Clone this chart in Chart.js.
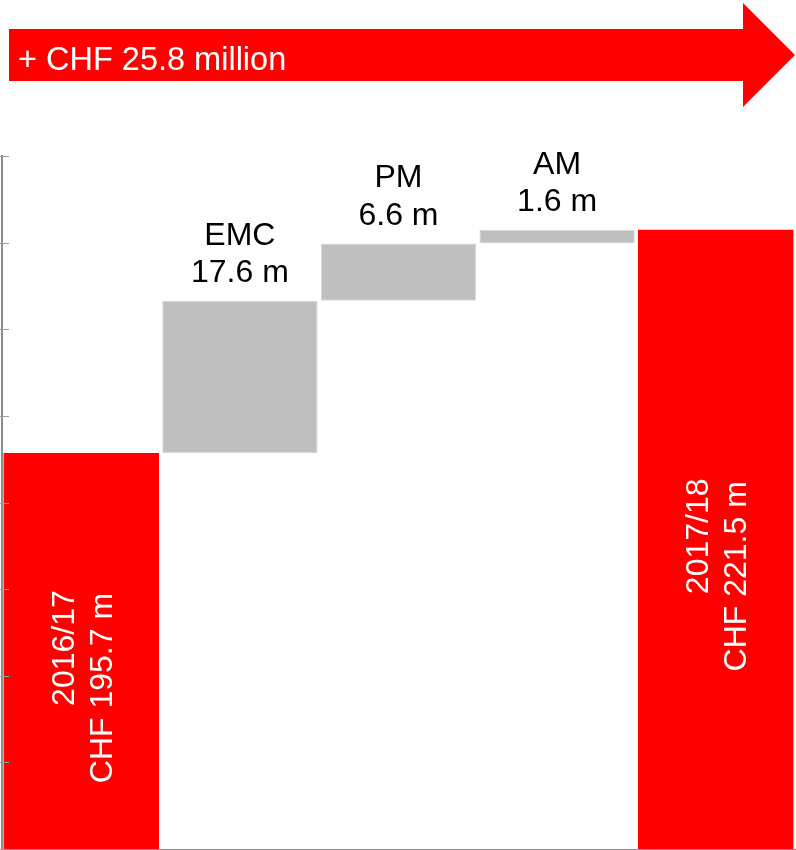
<!DOCTYPE html>
<html>
<head>
<meta charset="utf-8">
<script src="https://cdn.jsdelivr.net/npm/chart.js@4/dist/chart.umd.min.js"></script>
<style>
  html, body { margin: 0; padding: 0; background: #ffffff; }
  #wrap { width: 796px; height: 850px; position: relative; }
</style>
</head>
<body>
<div id="wrap"><canvas id="c" width="796" height="850"></canvas></div>
<script>
// Revenue bridge, CHF million
const categories = ['2016/17', 'EMC', 'PM', 'AM', '2017/18'];
const openingTotal = 195.7;
const segmentChanges = [17.6, 6.6, 1.6];   // EMC, PM, AM
const closingTotal = 221.5;
const axisMin = 150;
const axisMax = 230;
const axisStep = 10;

// Totals are plain bars; segment changes float on the running sum
const barData = [openingTotal];
let running = openingTotal;
segmentChanges.forEach(d => {
  const next = Math.round((running + d) * 10) / 10;
  barData.push([running, next]);
  running = next;
});
barData.push(closingTotal);

const RED = '#ff0000';
const GREY = '#bfbfbf';
const FONT = '"Liberation Sans", Arial, sans-serif';
const isTotal = i => !Array.isArray(barData[i]);

// Banner arrow with the overall change
const bannerArrow = {
  id: 'bannerArrow',
  beforeDraw(chart) {
    const ctx = chart.ctx;
    const w = chart.width;
    const headBase = w - 53, tip = w - 1;
    ctx.save();
    ctx.fillStyle = RED;
    ctx.beginPath();
    ctx.moveTo(9, 29);
    ctx.lineTo(headBase, 29);
    ctx.lineTo(headBase, 3);
    ctx.lineTo(tip, 55);
    ctx.lineTo(headBase, 107);
    ctx.lineTo(headBase, 81);
    ctx.lineTo(9, 81);
    ctx.closePath();
    ctx.fill();
    const delta = (closingTotal - openingTotal).toFixed(1);
    ctx.fillStyle = '#ffffff';
    ctx.font = '32.5px ' + FONT;
    ctx.textAlign = 'left';
    ctx.textBaseline = 'alphabetic';
    ctx.fillText('+ CHF ' + delta + ' million', 18, 70);
    ctx.restore();
  }
};

// Short tick marks on the inner side of the value axis
const innerTicks = {
  id: 'innerTicks',
  afterDraw(chart) {
    const y = chart.scales.y;
    const ctx = chart.ctx;
    const x0 = chart.chartArea.left;
    ctx.save();
    ctx.strokeStyle = '#a0a0a0';
    ctx.lineWidth = 1;
    y.ticks.forEach(t => {
      const py = Math.round(y.getPixelForValue(t.value)) + 0.5;
      ctx.beginPath();
      ctx.moveTo(0, py);
      ctx.lineTo(x0 + 7, py);
      ctx.stroke();
    });
    ctx.restore();
  }
};

// Category / value labels
const barLabels = {
  id: 'barLabels',
  afterDraw(chart) {
    const ctx = chart.ctx;
    const yScale = chart.scales.y;
    const meta = chart.getDatasetMeta(0);
    ctx.save();
    ctx.font = '32px ' + FONT;
    ctx.textAlign = 'center';
    ctx.textBaseline = 'alphabetic';
    meta.data.forEach((bar, i) => {
      const cx = bar.x;
      if (isTotal(i)) {
        const top = yScale.getPixelForValue(barData[i]);
        const bottom = yScale.getPixelForValue(yScale.min);
        const cy = (top + bottom) / 2;
        ctx.save();
        ctx.translate(cx, cy);
        ctx.rotate(-Math.PI / 2);
        ctx.fillStyle = '#ffffff';
        ctx.textAlign = 'center';
        ctx.fillText(categories[i], 3, -7.5);
        ctx.fillText('CHF ' + barData[i].toFixed(1) + ' m', -37, 30.5);
        ctx.restore();
      } else {
        const top = yScale.getPixelForValue(barData[i][1]);
        ctx.fillStyle = '#000000';
        ctx.fillText(categories[i], cx, top - 56);
        ctx.fillText(segmentChanges[i - 1].toFixed(1) + ' m', cx, top - 18.5);
      }
    });
    ctx.restore();
  }
};

new Chart(document.getElementById('c'), {
  type: 'bar',
  data: {
    labels: categories,
    datasets: [{
      data: barData,
      backgroundColor: barData.map((v, i) => isTotal(i) ? RED : GREY),
      borderColor: barData.map((v, i) => isTotal(i) ? RED : '#d9d9d9'),
      borderWidth: barData.map((v, i) => isTotal(i) ? 0 : 1),
      borderSkipped: false,
      categoryPercentage: 1.0,
      barPercentage: 0.98
    }]
  },
  options: {
    responsive: false,
    animation: false,
    devicePixelRatio: 1,
    layout: { padding: { top: 156, left: 2, right: 1, bottom: 1 } },
    plugins: {
      legend: { display: false },
      title: { display: false },
      tooltip: { enabled: false }
    },
    scales: {
      x: {
        grid: { display: false, drawTicks: false },
        ticks: { display: false },
        border: { display: true, color: '#8c8c8c', width: 1 }
      },
      y: {
        min: axisMin,
        max: axisMax,
        ticks: { display: false, stepSize: axisStep },
        grid: { display: false, drawTicks: false },
        border: { display: true, color: '#8c8c8c', width: 2 }
      }
    }
  },
  plugins: [bannerArrow, innerTicks, barLabels]
});
</script>
</body>
</html>
